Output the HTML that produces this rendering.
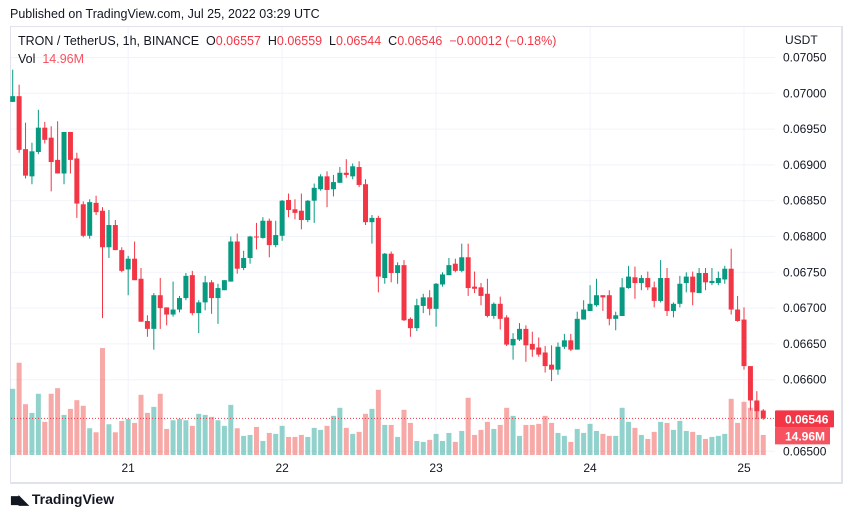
<!DOCTYPE html>
<html><head><meta charset="utf-8">
<style>
body{margin:0;width:851px;height:518px;background:#fff;font-family:"Liberation Sans",sans-serif;overflow:hidden;position:relative}
.t{position:absolute;white-space:nowrap}
</style></head>
<body>
<div class="t" style="left:10px;top:7px;font-size:12.5px;color:#131722">Published on TradingView.com, Jul 25, 2022 03:29 UTC</div>
<div style="position:absolute;left:10px;top:26px;width:830px;height:455px;border:1px solid #e0e3eb;border-width:1px 2px 2px 1px"></div>
<svg id="chart" width="851" height="518" style="position:absolute;left:0;top:0"></svg>
<div class="t" style="left:18px;top:34px;font-size:12.5px;color:#131722">TRON / TetherUS, 1h, BINANCE&nbsp; O<span style="color:#f23645">0.06557</span>&nbsp; H<span style="color:#f23645">0.06559</span>&nbsp; L<span style="color:#f23645">0.06544</span>&nbsp; C<span style="color:#f23645">0.06546</span>&nbsp; <span style="color:#f23645">−0.00012 (−0.18%)</span></div>
<div class="t" style="left:18px;top:52px;font-size:12.5px;color:#131722">Vol&nbsp; <span style="color:#f7525f">14.96M</span></div>
<div class="t" style="left:785px;top:33px;font-size:12px;color:#131722">USDT</div>
<div class="t" style="left:10px;top:491px;font-size:14px;color:#131722;font-weight:bold"><span style="display:inline-block;width:18px;font-size:13px;letter-spacing:-2px">◼◣</span> TradingView</div>
<script>
const opens=[0.06988,0.06996,0.06922,0.06884,0.06918,0.06952,0.06938,0.06907,0.06888,0.06946,0.06909,0.06845,0.06801,0.06847,0.06836,0.06785,0.06816,0.06781,0.06754,0.06769,0.06741,0.06682,0.06671,0.06718,0.06701,0.06691,0.06698,0.06714,0.06746,0.06693,0.06708,0.06736,0.06714,0.06725,0.06737,0.06793,0.06756,0.0677,0.068,
0.06798,0.06822,0.06788,0.06801,0.06851,0.06838,0.06836,0.06823,0.0685,0.06866,0.06884,0.06866,0.06875,0.06889,0.06884,0.06897,0.06873,0.0682,0.06826,0.06742,0.06776,0.06749,0.0676,0.06685,0.06672,0.06703,0.06715,0.06699,0.06733,0.06746,0.06762,0.06752,0.06771,0.0673,0.06729,0.0672,0.06689,0.06706,0.06687,
0.06648,0.06656,0.06671,0.0665,0.06645,0.06638,0.06621,0.06614,0.06646,0.06655,0.06642,0.06684,0.06696,0.06704,0.06718,0.06718,0.06685,0.06689,0.06728,0.06743,0.06735,0.06742,0.06729,0.0671,0.06742,0.06696,0.06706,0.06735,0.06744,0.06721,0.06749,0.06735,0.06735,0.0674,0.06755,0.06698,0.06684,0.06619,0.06571,0.06557];
const closes=[0.06996,0.06921,0.06885,0.06919,0.06952,0.06935,0.06904,0.06888,0.06946,0.06907,0.06846,0.06801,0.06848,0.06834,0.06785,0.06816,0.06781,0.06752,0.06769,0.06739,0.06681,0.06671,0.06718,0.067,0.06691,0.06698,0.06714,0.06745,0.06693,0.06708,0.06736,0.06714,0.06728,0.06739,0.06793,0.06755,0.0677,0.068,0.06799,
0.06822,0.06788,0.06802,0.0685,0.06837,0.06833,0.06823,0.0685,0.06868,0.06884,0.06865,0.06876,0.06889,0.06886,0.06898,0.06872,0.0682,0.06826,0.06744,0.06776,0.06749,0.0676,0.06683,0.06672,0.06704,0.06715,0.06699,0.06734,0.06747,0.0676,0.06752,0.06771,0.06728,0.06727,0.06717,0.06689,0.06706,0.06685,0.06649,
0.06657,0.06671,0.06648,0.06642,0.06635,0.06619,0.06614,0.06646,0.06655,0.06642,0.06685,0.06698,0.06706,0.06718,0.06715,0.06685,0.0669,0.06729,0.06744,0.06735,0.06742,0.06729,0.0671,0.06742,0.06696,0.06706,0.06734,0.06744,0.06722,0.06749,0.06736,0.06738,0.06742,0.06755,0.06698,0.06682,0.06619,0.06571,0.06556,0.06546];
const highs=[0.07033,0.07012,0.06959,0.06931,0.06977,0.0696,0.06954,0.06961,0.06946,0.06946,0.06917,0.06849,0.06852,0.06857,0.06841,0.06837,0.06823,0.06785,0.06773,0.06793,0.06756,0.0669,0.06721,0.06742,0.06701,0.06737,0.06717,0.06749,0.06752,0.06711,0.06745,0.06739,0.06734,0.06739,0.068,0.06804,0.0678,0.06801,0.06819,
0.06827,0.06825,0.06822,0.06851,0.0686,0.06852,0.0686,0.06851,0.06874,0.06887,0.06891,0.06886,0.06897,0.06908,0.06902,0.06905,0.0688,0.0683,0.06829,0.06777,0.06779,0.06764,0.06767,0.06687,0.06713,0.0672,0.06725,0.06735,0.0675,0.0677,0.06769,0.0679,0.0679,0.06751,0.06735,0.06741,0.06708,0.06716,0.0669,
0.06665,0.06679,0.06676,0.06667,0.06659,0.06647,0.06648,0.06652,0.06664,0.06664,0.06695,0.06711,0.06732,0.06741,0.06718,0.06725,0.06695,0.06742,0.06759,0.06758,0.06746,0.06751,0.06737,0.06767,0.06756,0.06708,0.06745,0.0675,0.06751,0.06756,0.06756,0.06756,0.06751,0.06759,0.06783,0.06717,0.06701,0.06619,0.06584,0.06559];
const lows=[0.06988,0.06917,0.06881,0.06873,0.06915,0.0693,0.06863,0.06888,0.06873,0.06888,0.06826,0.06799,0.06797,0.0683,0.06686,0.0677,0.06781,0.0675,0.06718,0.06739,0.06681,0.0666,0.06642,0.06671,0.06676,0.06688,0.06694,0.06711,0.0669,0.06665,0.06697,0.06692,0.06678,0.06725,0.06737,0.06748,0.06753,0.06762,0.06782,
0.06797,0.06771,0.06785,0.06794,0.06827,0.06824,0.0681,0.0682,0.06819,0.06864,0.06841,0.06856,0.06875,0.06882,0.0688,0.06869,0.06816,0.0679,0.06722,0.06734,0.06736,0.06734,0.06682,0.0666,0.06668,0.06693,0.0669,0.06674,0.0673,0.06746,0.0675,0.0675,0.06717,0.06721,0.06704,0.06687,0.06685,0.0667,0.06647,
0.06628,0.06654,0.06625,0.06632,0.06632,0.0661,0.06598,0.06607,0.06643,0.0664,0.06642,0.06684,0.06696,0.06702,0.06696,0.06676,0.06669,0.06689,0.06727,0.06713,0.06725,0.06725,0.06701,0.06708,0.06689,0.06687,0.06701,0.06722,0.06704,0.06721,0.06725,0.06732,0.06732,0.06734,0.06691,0.06681,0.06614,0.06557,0.06545,0.06544];
const volumes=[49.5,69,38,31.5,45.8,24.8,45.8,50,30,34.5,41,36.8,20,17,80,23,17,25.5,27,24,45,31.5,36,45.8,19.5,26,27,26,21.8,30.8,30,28.5,26,21.8,37.5,20,14.3,15,21,
10.5,16.5,15.8,21.8,13.5,13.5,15,13.5,20.3,18.8,21.8,29.3,35.3,20.3,15.8,17.3,30.8,34.5,48.8,22.5,22.5,13.5,33.8,24,10.5,9.8,11.3,15.8,10.5,16.5,9.8,18,42.8,15,18.8,24.8,19.5,22.5,35.3,
29.3,14.3,22.5,22.5,23.3,29.3,24,16.5,14.3,9.8,19.5,16.5,23.3,18,15.8,14.3,14.3,35.3,24.8,20.3,15,12,17.3,24.8,24,18.8,25.5,18,17.3,15,12,13.5,14.3,15.8,42,24,39.8,35.3,40.5,14.96];
const priceTicks=[0.0705,0.07,0.0695,0.069,0.0685,0.068,0.0675,0.067,0.0665,0.066,0.065];
const dayLabels=["21","22","23","24","25"];
const dayIndex=[18,42,66,90,114];

const NS="http://www.w3.org/2000/svg";
const svg=document.getElementById('chart');
const X0=12.7,STEP=6.415,PLOT_R=775;
const xs=i=>X0+i*STEP;
const yp=p=>93.3+(0.07-p)/0.0005*35.8;
const yv=v=>455-v*1.337;
function mk(tag,attrs){const e=document.createElementNS(NS,tag);for(const k in attrs)e.setAttribute(k,attrs[k]);svg.appendChild(e);return e;}
// grid
priceTicks.forEach((p,i)=>{
  const y=yp(p);
  const g=mk('line',{x1:11,x2:PLOT_R,y1:y,y2:y,stroke:'#f0f3fa','stroke-width':1});
  
  
  const t=mk('text',{x:783,y:y+4,'font-size':12,fill:'#131722','font-family':'Liberation Sans, sans-serif'});
  t.textContent=p.toFixed(5);
  
  
});
dayIndex.forEach((d,i)=>{
  const x=xs(d);
  const g=mk('line',{x1:x,x2:x,y1:27,y2:455,stroke:'#f0f3fa','stroke-width':1});
  
  
  const t=mk('text',{x:x,y:472,'font-size':12,fill:'#131722','text-anchor':'middle','font-family':'Liberation Sans, sans-serif'});
  t.textContent=dayLabels[i];
  
  
});
// volume
volumes.forEach((v,i)=>{
  const up=closes[i]>=opens[i];
  const r=mk('rect',{x:xs(i)-2.5,y:yv(v),width:5,height:455-yv(v),fill:up?'rgba(38,166,154,0.5)':'rgba(239,83,80,0.5)'});
  
  
});
// candles
opens.forEach((o,i)=>{
  const c=closes[i],up=c>=o,col=up?'#089981':'#f23645',x=xs(i);
  const w=mk('line',{x1:x,x2:x,y1:yp(highs[i]),y2:yp(lows[i]),stroke:col,'stroke-width':1});
  
  
  const top=yp(Math.max(o,c)),bot=yp(Math.min(o,c));
  const b=mk('rect',{x:x-2.5,y:top,width:5,height:Math.max(1,bot-top),fill:col});
  
  
});
// last price line
const lp=closes[closes.length-1],ly=yp(lp);
const pl=mk('line',{x1:11,x2:PLOT_R,y1:ly,y2:ly,stroke:'#f23645','stroke-width':1,'stroke-dasharray':'1,2'});


const lb=mk('rect',{x:775,y:ly-8,width:59,height:17,fill:'#f23645',rx:1});


const lt=mk('text',{x:785,y:ly+5,'font-size':12,fill:'#fff','font-weight':'bold','font-family':'Liberation Sans, sans-serif'});
lt.textContent=lp.toFixed(5);


const vb=mk('rect',{x:775,y:ly+9,width:55,height:17,fill:'#f7525f'});


const vt=mk('text',{x:785,y:ly+22,'font-size':12,fill:'#fff','font-weight':'bold','font-family':'Liberation Sans, sans-serif'});
vt.textContent=volumes[volumes.length-1].toFixed(2)+'M';


</script>
</body></html>
